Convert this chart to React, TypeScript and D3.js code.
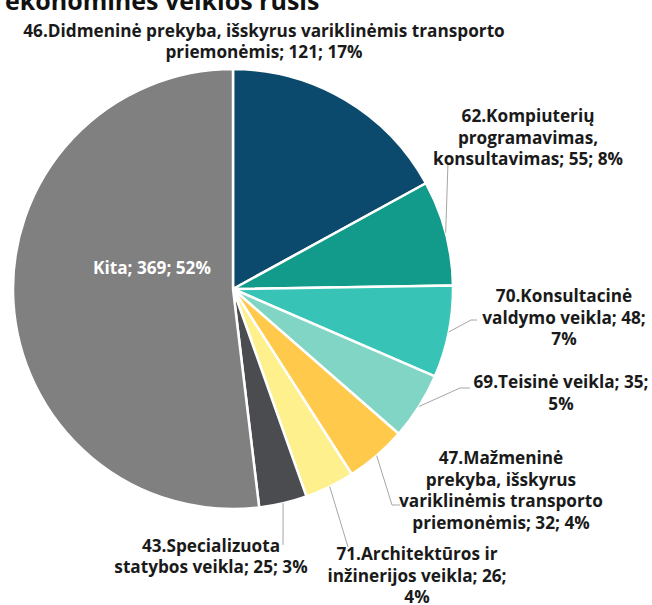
import React from "react";
import * as d3 from "d3";

const categories = [
  "46.Didmeninė prekyba, išskyrus variklinėmis transporto priemonėmis",
  "62.Kompiuterių programavimas, konsultavimas",
  "70.Konsultacinė valdymo veikla",
  "69.Teisinė veikla",
  "47.Mažmeninė prekyba, išskyrus variklinėmis transporto priemonėmis",
  "71.Architektūros ir inžinerijos veikla",
  "43.Specializuota statybos veikla",
  "Kita",
];
const values = [121, 55, 48, 35, 32, 26, 25, 369];
const percentLabels = ["17%", "8%", "7%", "5%", "4%", "4%", "3%", "52%"];
const titleText = "ekonominės veiklos rūšis";

// label text split into lines (as in the reference)
const labelLines = [
  ["46.Didmeninė prekyba, išskyrus variklinėmis transporto", "priemonėmis; 121; 17%"],
  ["62.Kompiuterių", "programavimas,", "konsultavimas; 55; 8%"],
  ["70.Konsultacinė", "valdymo veikla; 48;", "7%"],
  ["69.Teisinė veikla; 35;", "5%"],
  ["47.Mažmeninė", "prekyba, išskyrus", "variklinėmis transporto", "priemonėmis; 32; 4%"],
  ["71.Architektūros ir", "inžinerijos veikla; 26;", "4%"],
  ["43.Specializuota", "statybos veikla; 25; 3%"],
  ["Kita; 369; 52%"],
];

const colors = ["#0c4a6d", "#129a8a", "#37c4b6", "#80d5c5", "#ffca4c", "#fef08c", "#4b4c50", "#808080"];

// layout
const W = 652, H = 605;
const cx = 233, cy = 289, R = 220;
const lineH = 21.6;
const labelPos: [number, number][] = [
  [264, 36.5], [528, 122], [564, 302], [561, 388], [501, 464], [417, 560], [211, 551.5], [152, 274],
];
// leader end points (after edge point)
const leaders: ([number, number][] | null)[] = [
  null,
  [[448, 162]],
  [[471, 320], [477, 320]],
  [[460, 388], [470, 388]],
  [[392, 505], [400, 505]],
  [[348, 547]],
  [[283, 545]],
  null,
];

export default function App() {
  const pie = d3.pie<number>().sort(null).value((d) => d);
  const arcs = pie(values);
  const arc = d3.arc<d3.PieArcDatum<number>>().innerRadius(0).outerRadius(R);
  const font = "'Open Sans', 'DejaVu Sans', sans-serif";

  return (
    <svg width={W} height={H} style={{ position: "absolute", left: 0, top: 0, background: "#fff" }}>
      <text x={5} y={10} fontFamily={font} fontWeight={700} fontSize={25} fill="#111">
        {titleText}
      </text>
      <g transform={`translate(${cx},${cy})`}>
        {arcs.map((a, i) => (
          <path key={categories[i]} d={arc(a) || ""} fill={colors[i]} stroke="#fff" strokeWidth={2.5} strokeLinejoin="round" />
        ))}
      </g>
      {arcs.map((a, i) => {
        const pts = leaders[i];
        if (!pts) return null;
        const mid = (a.startAngle + a.endAngle) / 2;
        const sx = cx + R * Math.sin(mid);
        const sy = cy - R * Math.cos(mid);
        const d = d3.line()([[sx, sy], ...pts]) || "";
        return <path key={"l" + i} d={d} fill="none" stroke="#a6a6a6" strokeWidth={1} />;
      })}
      {labelLines.map((lines, i) => (
        <text
          key={"t" + i}
          x={labelPos[i][0]}
          y={labelPos[i][1]}
          textAnchor="middle"
          fontFamily={font}
          fontWeight={700}
          fontSize={17.2}
          fill={i === 7 ? "#ffffff" : "#1a1a1a"}
        >
          {lines.map((ln, j) => (
            <tspan key={j} x={labelPos[i][0]} y={labelPos[i][1] + j * lineH}>
              {ln}
            </tspan>
          ))}
        </text>
      ))}
    </svg>
  );
}
